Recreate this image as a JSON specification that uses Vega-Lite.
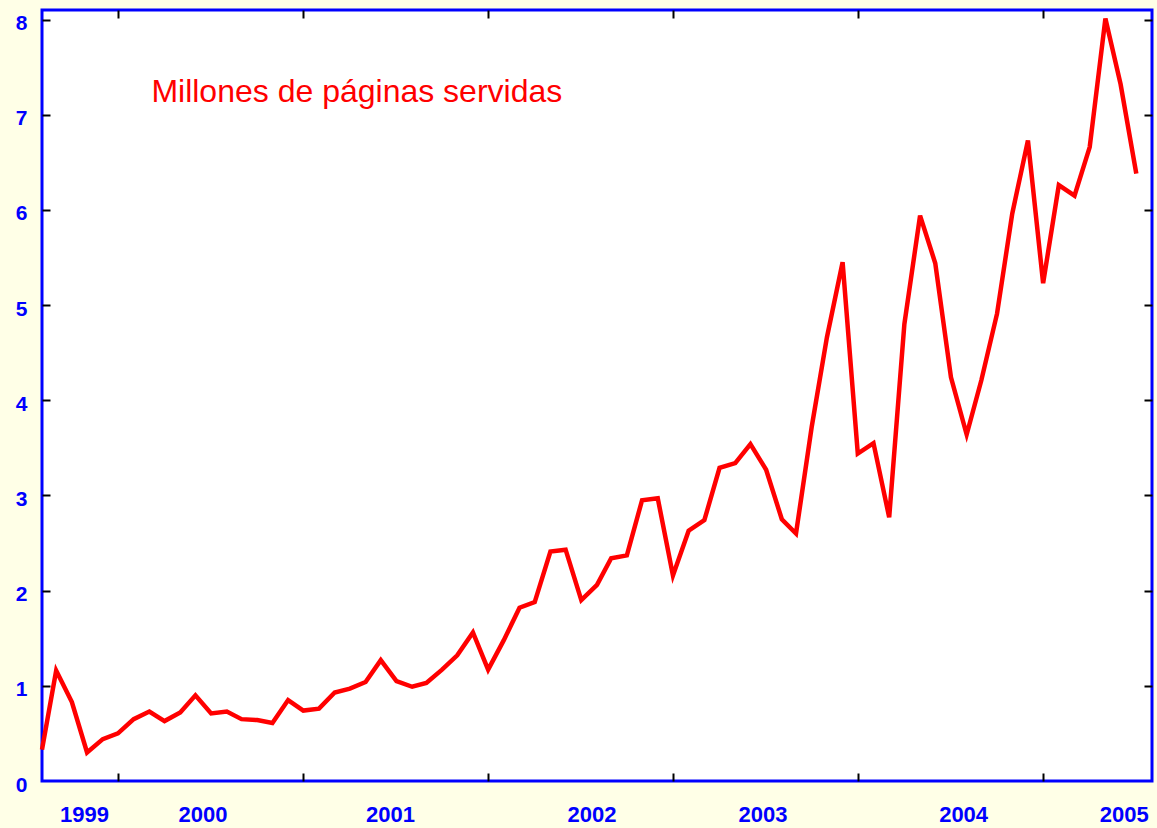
{
  "$schema": "https://vega.github.io/schema/vega-lite/v6.json",
  "autosize": {"type": "none"},
  "padding": {"left": 42, "top": 10, "right": 5, "bottom": 47},
  "width": 1110,
  "height": 771,
  "background": "#FFFFE7",
  "config": {
    "view": {"stroke": "#0000FF", "strokeWidth": 3, "fill": "#FFFFFF"},
    "axis": {"grid": false, "domain": false, "labelFlush": false, "labelOverlap": false, "labelBound": false, "title": null}
  },
  "data": {
    "values": [
      {"date": "1999-02-01", "value": 0.33},
      {"date": "1999-03-01", "value": 1.16},
      {"date": "1999-04-01", "value": 0.83},
      {"date": "1999-05-01", "value": 0.30},
      {"date": "1999-06-01", "value": 0.44},
      {"date": "1999-07-01", "value": 0.50},
      {"date": "1999-08-01", "value": 0.65},
      {"date": "1999-09-01", "value": 0.73},
      {"date": "1999-10-01", "value": 0.63},
      {"date": "1999-11-01", "value": 0.72},
      {"date": "1999-12-01", "value": 0.90},
      {"date": "2000-01-01", "value": 0.71},
      {"date": "2000-02-01", "value": 0.73},
      {"date": "2000-03-01", "value": 0.65},
      {"date": "2000-04-01", "value": 0.64},
      {"date": "2000-05-01", "value": 0.61},
      {"date": "2000-06-01", "value": 0.85},
      {"date": "2000-07-01", "value": 0.74},
      {"date": "2000-08-01", "value": 0.76},
      {"date": "2000-09-01", "value": 0.93},
      {"date": "2000-10-01", "value": 0.97},
      {"date": "2000-11-01", "value": 1.04},
      {"date": "2000-12-01", "value": 1.27},
      {"date": "2001-01-01", "value": 1.05},
      {"date": "2001-02-01", "value": 0.99},
      {"date": "2001-03-01", "value": 1.03},
      {"date": "2001-04-01", "value": 1.17},
      {"date": "2001-05-01", "value": 1.32},
      {"date": "2001-06-01", "value": 1.56},
      {"date": "2001-07-01", "value": 1.17},
      {"date": "2001-08-01", "value": 1.48},
      {"date": "2001-09-01", "value": 1.82},
      {"date": "2001-10-01", "value": 1.88},
      {"date": "2001-11-01", "value": 2.41},
      {"date": "2001-12-01", "value": 2.43},
      {"date": "2002-01-01", "value": 1.90},
      {"date": "2002-02-01", "value": 2.06},
      {"date": "2002-03-01", "value": 2.34},
      {"date": "2002-04-01", "value": 2.37},
      {"date": "2002-05-01", "value": 2.95},
      {"date": "2002-06-01", "value": 2.97},
      {"date": "2002-07-01", "value": 2.16},
      {"date": "2002-08-01", "value": 2.63},
      {"date": "2002-09-01", "value": 2.74},
      {"date": "2002-10-01", "value": 3.29},
      {"date": "2002-11-01", "value": 3.34},
      {"date": "2002-12-01", "value": 3.54},
      {"date": "2003-01-01", "value": 3.27},
      {"date": "2003-02-01", "value": 2.75},
      {"date": "2003-03-01", "value": 2.60},
      {"date": "2003-04-01", "value": 3.72},
      {"date": "2003-05-01", "value": 4.66},
      {"date": "2003-06-01", "value": 5.45},
      {"date": "2003-07-01", "value": 3.44},
      {"date": "2003-08-01", "value": 3.55},
      {"date": "2003-09-01", "value": 2.77},
      {"date": "2003-10-01", "value": 4.80},
      {"date": "2003-11-01", "value": 5.94},
      {"date": "2003-12-01", "value": 5.44},
      {"date": "2004-01-01", "value": 4.24},
      {"date": "2004-02-01", "value": 3.64},
      {"date": "2004-03-01", "value": 4.21},
      {"date": "2004-04-01", "value": 4.91},
      {"date": "2004-05-01", "value": 5.96},
      {"date": "2004-06-01", "value": 6.73},
      {"date": "2004-07-01", "value": 5.23},
      {"date": "2004-08-01", "value": 6.26},
      {"date": "2004-09-01", "value": 6.15},
      {"date": "2004-10-01", "value": 6.66},
      {"date": "2004-11-01", "value": 8.01},
      {"date": "2004-12-01", "value": 7.32},
      {"date": "2005-01-01", "value": 6.38}
    ]
  },
  "layer": [
    {
      "mark": {"type": "line", "color": "#FF0000", "strokeWidth": 4.5, "strokeJoin": "miter"},
      "encoding": {
        "x": {
          "field": "date", "type": "temporal",
          "scale": {"type": "utc", "nice": false, "domain": [{"year": 1999, "month": 2, "date": 1, "utc": true}, {"year": 2005, "month": 2, "date": 1, "utc": true}]},
          "axis": {
            "orient": "bottom", "ticks": false, "labels": true,
            "values": [
              {"year": 1999, "month": 4, "date": 25, "utc": true},
              {"year": 1999, "month": 12, "date": 15, "utc": true},
              {"year": 2000, "month": 12, "date": 19, "utc": true},
              {"year": 2002, "month": 1, "date": 21, "utc": true},
              {"year": 2002, "month": 12, "date": 25, "utc": true},
              {"year": 2004, "month": 1, "date": 25, "utc": true},
              {"year": 2004, "month": 12, "date": 7, "utc": true}
            ],
            "labelExpr": "utcFormat(datum.value + 3888000000, '%Y')",
            "labelColor": "#0000FF", "labelFont": "Liberation Sans", "labelFontWeight": "bold", "labelFontSize": 22,
            "labelBaseline": "top", "labelAlign": "center", "labelPadding": 23
          }
        },
        "y": {
          "field": "value", "type": "quantitative",
          "scale": {"domain": [0, 8.1], "nice": false, "zero": false},
          "axis": {
            "orient": "left", "ticks": false, "labels": true,
            "values": [0, 1, 2, 3, 4, 5, 6, 7, 8],
            "labelColor": "#0000FF", "labelFont": "Liberation Sans", "labelFontWeight": "bold", "labelFontSize": 21,
            "labelAlign": "right", "labelBaseline": "middle", "labelPadding": 15, "labelOffset": 4
          }
        }
      }
    },
    {
      "mark": {"type": "point", "opacity": 0},
      "encoding": {
        "x": {
          "field": "date", "type": "temporal",
          "scale": {"type": "utc", "nice": false, "domain": [{"year": 1999, "month": 2, "date": 1, "utc": true}, {"year": 2005, "month": 2, "date": 1, "utc": true}]},
          "axis": {
            "orient": "bottom", "labels": false, "ticks": true, "tickSize": -8, "tickWidth": 2, "tickColor": "#000000",
            "values": [
              {"year": 1999, "month": 7, "date": 1, "utc": true},
              {"year": 2000, "month": 7, "date": 1, "utc": true},
              {"year": 2001, "month": 7, "date": 1, "utc": true},
              {"year": 2002, "month": 7, "date": 1, "utc": true},
              {"year": 2003, "month": 7, "date": 1, "utc": true},
              {"year": 2004, "month": 7, "date": 1, "utc": true}
            ]
          }
        },
        "y": {
          "field": "value", "type": "quantitative",
          "scale": {"domain": [0, 8.1], "nice": false, "zero": false},
          "axis": {
            "orient": "left", "labels": false, "ticks": true, "tickSize": -8, "tickWidth": 2, "tickColor": "#000000",
            "values": [1, 2, 3, 4, 5, 6, 7, 8]
          }
        }
      }
    },
    {
      "mark": {"type": "point", "opacity": 0},
      "encoding": {
        "x": {
          "field": "date", "type": "temporal",
          "scale": {"type": "utc", "nice": false, "domain": [{"year": 1999, "month": 2, "date": 1, "utc": true}, {"year": 2005, "month": 2, "date": 1, "utc": true}]},
          "axis": {
            "orient": "top", "labels": false, "ticks": true, "tickSize": -8, "tickWidth": 2, "tickColor": "#000000",
            "values": [
              {"year": 1999, "month": 7, "date": 1, "utc": true},
              {"year": 2000, "month": 7, "date": 1, "utc": true},
              {"year": 2001, "month": 7, "date": 1, "utc": true},
              {"year": 2002, "month": 7, "date": 1, "utc": true},
              {"year": 2003, "month": 7, "date": 1, "utc": true},
              {"year": 2004, "month": 7, "date": 1, "utc": true}
            ]
          }
        },
        "y": {
          "field": "value", "type": "quantitative",
          "scale": {"domain": [0, 8.1], "nice": false, "zero": false},
          "axis": {
            "orient": "right", "labels": false, "ticks": true, "tickSize": -8, "tickWidth": 2, "tickColor": "#000000",
            "values": [1, 2, 3, 4, 5, 6, 7, 8]
          }
        }
      }
    },
    {
      "data": {"values": [{}]},
      "mark": {"type": "text", "text": "Millones de páginas servidas", "align": "left", "baseline": "alphabetic", "font": "Liberation Sans", "fontSize": 32, "color": "#FF0000"},
      "encoding": {
        "x": {"datum": {"year": 1999, "month": 9, "date": 5, "utc": true}, "type": "temporal", "axis": null},
        "y": {"datum": 7.13, "type": "quantitative", "axis": null}
      }
    }
  ],
  "resolve": {"axis": {"x": "independent", "y": "independent"}}
}
